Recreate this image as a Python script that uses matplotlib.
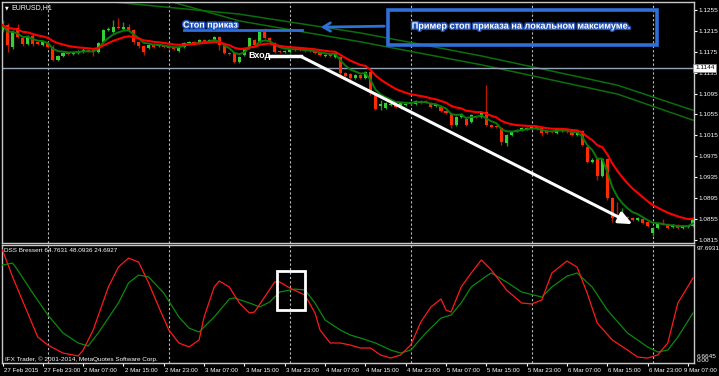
import matplotlib
matplotlib.use("Agg")
import matplotlib.pyplot as plt
import matplotlib.patheffects as pe
import matplotlib.transforms as mtransforms
from matplotlib.patches import Rectangle
import numpy as np
import pandas as pd

plt.rcParams['font.family'] = ['Liberation Sans', 'DejaVu Sans']

# EURUSD H1, 27 Feb 2015 15:00 .. 9 Mar 2015 08:00 (138 bars)
opens = [1.1217, 1.1226, 1.1184, 1.1220, 1.1201, 1.1190, 1.1205, 1.1194, 1.1188, 1.1192,
         1.1184, 1.1159, 1.1167, 1.1173, 1.1171, 1.1173, 1.1174, 1.1178, 1.1178, 1.1174,
         1.1194, 1.1217, 1.1213, 1.1222, 1.1218, 1.1222, 1.1217, 1.1194, 1.1186, 1.1182,
         1.1190, 1.1186, 1.1186, 1.1186, 1.1184, 1.1176, 1.1184, 1.1192, 1.1194, 1.1192,
         1.1197, 1.1196, 1.1197, 1.1203, 1.1186, 1.1173, 1.1173, 1.1155, 1.1169, 1.1182,
         1.1197, 1.1194, 1.1213, 1.1201, 1.1192, 1.1176, 1.1174, 1.1174, 1.1178, 1.1182,
         1.1178, 1.1178, 1.1176, 1.1173, 1.1167, 1.1169, 1.1165, 1.1165, 1.1134, 1.1132,
         1.1125, 1.1130, 1.1125, 1.1136, 1.1096, 1.1071, 1.1067, 1.1073, 1.1075, 1.1067,
         1.1073, 1.1075, 1.1075, 1.1081, 1.1081, 1.1077, 1.1071, 1.1069, 1.1062, 1.1056,
         1.1035, 1.1050, 1.1046, 1.1040, 1.1052, 1.1050, 1.1060, 1.1035, 1.1033, 1.1029,
         1.1000, 1.1016, 1.1023, 1.1025, 1.1027, 1.1029, 1.1031, 1.1029, 1.1023, 1.1023,
         1.1019, 1.1023, 1.1025, 1.1021, 1.1016, 1.1023, 1.0993, 1.0964, 1.0970, 1.0937,
         1.0970, 1.0895, 1.0862, 1.0857, 1.0859, 1.0857, 1.0853, 1.0855, 1.0849, 1.0828,
         1.0838, 1.0845, 1.0845, 1.0839, 1.0843, 1.0838, 1.0839, 1.0841]
highs = [1.1236, 1.1230, 1.1217, 1.1228, 1.1203, 1.1207, 1.1209, 1.1196, 1.1196, 1.1194,
         1.1188, 1.1169, 1.1174, 1.1174, 1.1176, 1.1178, 1.1182, 1.1180, 1.1180, 1.1194,
         1.1218, 1.1222, 1.1236, 1.1240, 1.1232, 1.1228, 1.1218, 1.1196, 1.1188, 1.1190,
         1.1192, 1.1190, 1.1188, 1.1188, 1.1186, 1.1186, 1.1194, 1.1196, 1.1196, 1.1199,
         1.1199, 1.1199, 1.1205, 1.1205, 1.1188, 1.1174, 1.1174, 1.1167, 1.1184, 1.1203,
         1.1199, 1.1215, 1.1220, 1.1203, 1.1194, 1.1178, 1.1178, 1.1180, 1.1182, 1.1184,
         1.1180, 1.1180, 1.1178, 1.1174, 1.1171, 1.1171, 1.1174, 1.1167, 1.1136, 1.1134,
         1.1132, 1.1132, 1.1138, 1.1138, 1.1098, 1.1083, 1.1079, 1.1077, 1.1077, 1.1079,
         1.1077, 1.1079, 1.1083, 1.1083, 1.1083, 1.1079, 1.1075, 1.1071, 1.1063, 1.1058,
         1.1052, 1.1058, 1.1048, 1.1056, 1.1054, 1.1062, 1.1111, 1.1037, 1.1035, 1.1031,
         1.1018, 1.1023, 1.1027, 1.1031, 1.1031, 1.1033, 1.1033, 1.1031, 1.1025, 1.1025,
         1.1029, 1.1027, 1.1027, 1.1023, 1.1023, 1.1025, 1.0995, 1.0972, 1.0972, 1.0972,
         1.0972, 1.0897, 1.0887, 1.0876, 1.0861, 1.0859, 1.0859, 1.0857, 1.0851, 1.0839,
         1.0847, 1.0855, 1.0847, 1.0845, 1.0845, 1.0843, 1.0843, 1.0859]
lows = [1.1213, 1.1174, 1.1180, 1.1201, 1.1186, 1.1188, 1.1186, 1.1188, 1.1186, 1.1182,
        1.1157, 1.1157, 1.1165, 1.1169, 1.1169, 1.1171, 1.1173, 1.1174, 1.1167, 1.1173,
        1.1192, 1.1215, 1.1211, 1.1218, 1.1217, 1.1215, 1.1190, 1.1182, 1.1169, 1.1180,
        1.1182, 1.1184, 1.1182, 1.1180, 1.1178, 1.1174, 1.1182, 1.1190, 1.1190, 1.1190,
        1.1194, 1.1194, 1.1196, 1.1178, 1.1171, 1.1169, 1.1153, 1.1153, 1.1167, 1.1180,
        1.1186, 1.1192, 1.1199, 1.1192, 1.1173, 1.1173, 1.1173, 1.1173, 1.1176, 1.1176,
        1.1174, 1.1174, 1.1171, 1.1167, 1.1165, 1.1165, 1.1163, 1.1125, 1.1127, 1.1115,
        1.1123, 1.1123, 1.1123, 1.1092, 1.1063, 1.1063, 1.1065, 1.1071, 1.1067, 1.1065,
        1.1071, 1.1073, 1.1073, 1.1075, 1.1077, 1.1067, 1.1069, 1.1060, 1.1056, 1.1029,
        1.1033, 1.1048, 1.1033, 1.1039, 1.1048, 1.1048, 1.1033, 1.1029, 1.1029, 1.0996,
        1.0995, 1.1014, 1.1021, 1.1023, 1.1025, 1.1027, 1.1025, 1.1014, 1.1018, 1.1019,
        1.1018, 1.1021, 1.1019, 1.1014, 1.1014, 1.0995, 1.0962, 1.0962, 1.0929, 1.0935,
        1.0891, 1.0849, 1.0857, 1.0853, 1.0855, 1.0851, 1.0851, 1.0845, 1.0839, 1.0822,
        1.0836, 1.0843, 1.0836, 1.0838, 1.0836, 1.0836, 1.0838, 1.0839]
closes = [1.1226, 1.1188, 1.1213, 1.1203, 1.1190, 1.1205, 1.1190, 1.1190, 1.1194, 1.1184,
          1.1159, 1.1167, 1.1173, 1.1171, 1.1174, 1.1176, 1.1178, 1.1176, 1.1174, 1.1192,
          1.1217, 1.1218, 1.1222, 1.1220, 1.1222, 1.1217, 1.1194, 1.1186, 1.1174, 1.1188,
          1.1184, 1.1188, 1.1184, 1.1182, 1.1180, 1.1184, 1.1192, 1.1194, 1.1192, 1.1197,
          1.1196, 1.1197, 1.1203, 1.1188, 1.1173, 1.1171, 1.1155, 1.1165, 1.1182, 1.1201,
          1.1188, 1.1213, 1.1201, 1.1194, 1.1174, 1.1174, 1.1176, 1.1178, 1.1180, 1.1178,
          1.1176, 1.1176, 1.1173, 1.1169, 1.1169, 1.1167, 1.1173, 1.1134, 1.1129, 1.1125,
          1.1130, 1.1125, 1.1136, 1.1096, 1.1065, 1.1075, 1.1077, 1.1075, 1.1069, 1.1077,
          1.1075, 1.1077, 1.1081, 1.1079, 1.1079, 1.1069, 1.1073, 1.1062, 1.1058, 1.1035,
          1.1050, 1.1056, 1.1035, 1.1054, 1.1050, 1.1060, 1.1035, 1.1031, 1.1031, 1.1002,
          1.1016, 1.1021, 1.1025, 1.1029, 1.1029, 1.1031, 1.1029, 1.1019, 1.1019, 1.1021,
          1.1027, 1.1025, 1.1023, 1.1016, 1.1021, 1.0996, 1.0964, 1.0968, 1.0937, 1.0970,
          1.0895, 1.0857, 1.0861, 1.0859, 1.0857, 1.0853, 1.0857, 1.0847, 1.0841, 1.0838,
          1.0845, 1.0843, 1.0838, 1.0843, 1.0838, 1.0841, 1.0841, 1.0857]

# long moving averages (at a few bars)
ma_long_a_bars = [14, 20, 47, 71, 95, 122, 137]
ma_long_a = [1.1284, 1.1272, 1.1247, 1.1211, 1.1167, 1.1111, 1.1063]
ma_long_b_bars = [28, 33, 47, 71, 95, 122, 137]
ma_long_b = [1.1284, 1.1272, 1.1234, 1.1194, 1.1150, 1.1094, 1.1044]

# DSS Bressert
dss_red_bars = [0, 2, 5, 7, 9, 12, 15, 16, 18, 21, 23, 25, 27, 29, 31, 33, 35, 37, 39, 40,
                42, 43, 45, 47, 49, 50, 52, 54, 55, 57, 60, 62, 63, 65, 67, 69, 71, 73, 75, 77,
                79, 81, 83, 85, 87, 88, 89, 91, 93, 95, 97, 100, 103, 105, 107, 109, 112, 114,
                116, 118, 121, 124, 126, 128, 130, 132, 134, 137]
dss_red = [97.3, 73.7, 42.1, 21.0, 14.0, 7.0, 4.4, 9.6, 27.2, 64.9, 82.4, 90.3, 86.8, 68.4,
           47.4, 27.2, 15.8, 12.3, 18.4, 38.6, 64.9, 70.2, 64.9, 50.9, 42.1, 43.0, 56.1, 69.3,
           69.3, 64.0, 57.9, 42.1, 27.2, 15.8, 15.8, 14.0, 11.4, 11.4, 5.3, 2.6, 5.3, 14.0,
           34.2, 47.4, 54.4, 44.7, 43.0, 64.9, 77.2, 88.6, 79.8, 62.3, 50.9, 50.0, 53.5, 77.2,
           87.7, 82.4, 59.6, 33.3, 18.4, 9.6, 3.5, 2.6, 5.3, 15.8, 50.9, 72.8]
dss_green_bars = [0, 2, 3, 6, 9, 12, 15, 17, 19, 23, 25, 27, 29, 32, 35, 37, 39, 42, 45, 46,
                  49, 51, 53, 55, 58, 60, 62, 64, 67, 69, 71, 74, 77, 79, 81, 84, 87, 89, 91,
                  93, 96, 97, 100, 103, 107, 109, 112, 114, 117, 120, 124, 128, 130, 132, 134, 137]
dss_green = [84.2, 85.9, 79.8, 59.6, 40.3, 24.6, 15.8, 13.2, 24.6, 50.9, 68.4, 75.4, 73.7,
             59.6, 38.6, 28.9, 25.4, 38.6, 54.4, 55.3, 50.9, 47.4, 51.7, 60.5, 63.1, 62.3,
             50.9, 36.0, 27.2, 22.8, 20.2, 15.8, 9.6, 7.0, 9.6, 24.6, 37.7, 40.3, 50.9, 64.9,
             74.5, 77.2, 69.3, 60.5, 56.1, 64.9, 74.5, 77.2, 64.9, 44.7, 24.6, 12.3, 7.9, 9.6,
             21.0, 42.1]

price_ticks = [1.1255, 1.1215, 1.1175, 1.1135, 1.1095, 1.1055, 1.1015, 1.0975, 1.0935,
               1.0895, 1.0855, 1.0815]
time_ticks = [0, 8, 16, 24, 32, 40, 48, 56, 64, 72, 80, 88, 96, 104, 112, 120, 128, 136]
time_labels = ["27 Feb 2015", "27 Feb 23:00", "2 Mar 07:00", "2 Mar 15:00", "2 Mar 23:00",
               "3 Mar 07:00", "3 Mar 15:00", "3 Mar 23:00", "4 Mar 07:00", "4 Mar 15:00",
               "4 Mar 23:00", "5 Mar 07:00", "5 Mar 15:00", "5 Mar 23:00", "6 Mar 07:00",
               "6 Mar 15:00", "6 Mar 23:00", "9 Mar 07:00"]
day_starts = [9, 33, 57, 81, 105, 129]
current_price = 1.1144

W, H = 719, 376
fig = plt.figure(figsize=(W / 100, H / 100), dpi=100, facecolor='black')
ax1 = fig.add_axes([2 / W, 1 - 243 / H, 692 / W, 241 / H])
ax2 = fig.add_axes([2 / W, 1 - 363 / H, 692 / W, 118 / H])

for ax in (ax1, ax2):
    ax.set_facecolor('black')
    for s in ax.spines.values():
        s.set_color('#c8c8c8')
        s.set_linewidth(1)
    ax.set_xlim(-0.1, 137.2)
    for d in day_starts:
        ax.axvline(d, color='#bdbdbd', lw=0.8, ls=(0, (2, 2)), zorder=1)

# --- price panel
x = np.arange(len(closes))
o = np.array(opens)
c = np.array(closes)
up = c >= o
body_lo = np.minimum(o, c)
body_h = np.maximum(np.abs(c - o), 0.00012)
ax1.vlines(x[up], np.array(lows)[up], np.array(highs)[up], color='#1f9a1f', lw=1, zorder=3)
ax1.vlines(x[~up], np.array(lows)[~up], np.array(highs)[~up], color='#b81800', lw=1, zorder=3)
ax1.bar(x[up], body_h[up], bottom=body_lo[up], width=0.62, color='#35d035', zorder=4)
ax1.bar(x[~up], body_h[~up], bottom=body_lo[~up], width=0.62, color='#ff2a00', zorder=4)

ema_slow = pd.Series(closes).ewm(span=13, adjust=False).mean()
ema_fast = pd.Series(closes).ewm(span=5, adjust=False).mean()
ax1.plot(x, ema_fast, color='#0a7a0a', lw=1.4, zorder=5)
ax1.plot(x, ema_slow, color='#ff0000', lw=1.5, zorder=6)
ax1.plot(ma_long_a_bars, ma_long_a, color='#0b6e0b', lw=1.1, zorder=2)
ax1.plot(ma_long_b_bars, ma_long_b, color='#0b6e0b', lw=1.1, zorder=2)

ax1.axhline(current_price, color='#93a3b5', lw=1, zorder=2)
ax1.set_ylim(1.08089, 1.12702)
ax1.set_xticks([])
ax1.yaxis.tick_right()
ax1.set_yticks(price_ticks)
ax1.set_yticklabels([f"{p:.4f}" for p in price_ticks])
ax1.tick_params(axis='y', colors='white', labelsize=4.6, length=2.5, width=0.8, pad=0.8)

blend = mtransforms.blended_transform_factory(ax1.transAxes, ax1.transData)
ax1.text(1.0015, current_price, '1.1144', transform=blend, ha='left', va='center',
         fontsize=4.6, color='black', clip_on=False, zorder=20,
         bbox=dict(boxstyle='square,pad=0.25', fc='white', ec='#888888', lw=0.5))

# annotations
blue = '#2f6fd8'
glow = [pe.withStroke(linewidth=2.2, foreground='#1d4fb8')]
ax1.add_patch(Rectangle((76.5, 1.1188), 53.4, 0.0067, fill=False, ec=blue, lw=2.6, zorder=8))
ax1.text(102.8, 1.1224, 'Пример стоп приказа на локальном максимуме.', ha='center', va='center',
         fontsize=6.6, fontweight='bold', color='white', path_effects=glow, zorder=9)
ax1.annotate('', xy=(62.6, 1.1222), xytext=(76.3, 1.1224),
             arrowprops=dict(arrowstyle='->,head_length=0.5,head_width=0.3', color=blue, lw=2),
             zorder=9)
ax1.plot([36, 59.4], [1.1217, 1.1217], color=blue, lw=2, zorder=8)
ax1.text(35.8, 1.1226, 'Стоп приказ', ha='left', va='center', fontsize=6.5, fontweight='bold',
         color='white', path_effects=glow, zorder=9)
ax1.text(48.7, 1.1168, 'Вход', ha='left', va='center', fontsize=6.5, fontweight='bold',
         color='white', zorder=9)
ax1.plot([53.1, 59.2], [1.1166, 1.1166], color='white', lw=2.5, zorder=9)
ax1.annotate('', xy=(125.0, 1.0845), xytext=(59.4, 1.1165),
             arrowprops=dict(arrowstyle='-|>,head_length=0.8,head_width=0.35', color='white',
                             lw=2.2, shrinkA=0, shrinkB=0), zorder=9)

def px(xp, yp):
    return xp / W, 1 - yp / H

fig.text(*px(5, 7.5), '\u25bc', fontsize=3.5, color='white', ha='left', va='center',
         family='DejaVu Sans')
fig.text(*px(11, 7.5), 'EURUSD,H1', fontsize=5, color='white', ha='left', va='center')

# --- DSS panel
ax2.plot(dss_green_bars, dss_green, color='#0a8a0a', lw=0.9, zorder=3)
ax2.plot(dss_red_bars, dss_red, color='#ff1a1a', lw=0.9, zorder=4)
ax2.add_patch(Rectangle((54.5, 44.7), 5.5, 34.2, fill=False, ec='white', lw=2, zorder=6))
ax2.set_ylim(-1.75, 101.75)
ax2.set_yticks([])
ax2.set_xticks(time_ticks)
ax2.set_xticklabels(time_labels)
ax2.tick_params(axis='x', colors='white', labelsize=4.4, length=2.5, width=0.8, pad=0.8)
shift = mtransforms.ScaledTranslation(0.8 / 72, 0, fig.dpi_scale_trans)
tick_lbls = ax2.get_xticklabels()
for lbl in tick_lbls[:-1]:
    lbl.set_ha('left')
    lbl.set_transform(lbl.get_transform() + shift)
# last label sits against the right edge of the window
tick_lbls[-1].set_ha('right')
tick_lbls[-1].set_transform(tick_lbls[-1].get_transform()
                            + mtransforms.ScaledTranslation(29 / 100, 0, fig.dpi_scale_trans))

fig.text(*px(4, 250), 'DSS Bressert 64.7631 48.0936 24.6927', fontsize=4.6, color='white',
         ha='left', va='center')
fig.text(*px(5, 359), 'IFX Trader, \u00a9 2001-2014, MetaQuotes Software Corp.', fontsize=4.6,
         color='white', ha='left', va='center')
fig.text(*px(697, 249), '97.6931', fontsize=4.6, color='white', ha='left', va='center')
fig.text(*px(697, 356), '6.6645', fontsize=4.6, color='white', ha='left', va='center')
fig.text(*px(697, 360), '0.00', fontsize=4.6, color='white', ha='left', va='center')

fig.savefig('out.png', dpi=100, facecolor='black')
